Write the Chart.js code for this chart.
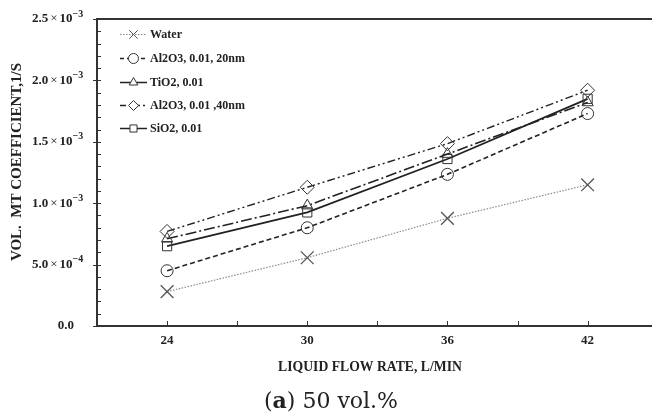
<!DOCTYPE html>
<html><head><meta charset="utf-8">
<script src="https://cdn.jsdelivr.net/npm/chart.js@4/dist/chart.umd.min.js"></script>
<style>
html,body{margin:0;padding:0;background:#fff;overflow:hidden;width:652px;height:417px;}
#wrap{position:absolute;left:0;top:0;width:668px;height:417px;}
</style></head>
<body>
<div id="wrap"><canvas id="c" width="668" height="417"></canvas></div>
<script>
const flowRates = [24, 30, 36, 42];
const seriesNames = ["Water", "Al2O3, 0.01, 20nm", "TiO2, 0.01", "Al2O3, 0.01 ,40nm", "SiO2, 0.01"];
const water      = [0.28e-3, 0.556e-3, 0.877e-3, 1.15e-3];
const al2o3_20nm = [0.45e-3, 0.80e-3, 1.235e-3, 1.73e-3];
const tio2       = [0.71e-3, 0.98e-3, 1.40e-3, 1.82e-3];
const al2o3_40nm = [0.77e-3, 1.13e-3, 1.485e-3, 1.92e-3];
const sio2       = [0.65e-3, 0.925e-3, 1.36e-3, 1.85e-3];
const xTickLabels = ["24", "30", "36", "42"];
const yTickMantissa = ["0.0", "5.0", "1.0", "1.5", "2.0", "2.5"];
const yTickExponent = ["", "−4", "−3", "−3", "−3", "−3"];
const xTitle = "LIQUID FLOW RATE, L/MIN";
const yTitle = "VOL.  MT COEFFICIENT,1/S";
const captionLetter = "a";
const caption = "50 vol.%";

const SERIF = '"Liberation Serif", "Times New Roman", serif';
const toPts = arr => arr.map((v, i) => ({x: flowRates[i], y: v}));

const styles = [
  {color:'#8a8a8a', width:1.2, dash:[1.5,1.5], point:'crossRot', r:9, bw:1.3},
  {color:'#222', width:1.6, dash:[5,3], point:'circle', r:6, bw:1},
  {color:'#222', width:1.6, dash:[11,3,2,3], point:'triangle', r:6.5, bw:1},
  {color:'#222', width:1.4, dash:[8,3,2,3,2,3], point:'rectRot', r:7, bw:1},
  {color:'#222', width:1.8, dash:[], point:'rect', r:6.5, bw:1}
];
const seriesData = [water, al2o3_20nm, tio2, al2o3_40nm, sio2];

const datasets = seriesData.map((d, i) => ({
  label: seriesNames[i],
  data: toPts(d),
  borderColor: styles[i].color,
  borderWidth: styles[i].width,
  borderDash: styles[i].dash,
  pointStyle: styles[i].point,
  pointRadius: styles[i].r,
  pointBorderWidth: styles[i].bw,
  pointBorderColor: i === 0 ? '#555' : '#333',
  pointBackgroundColor: 'rgba(255,255,255,0)',
  fill: false,
  tension: 0
}));

const decor = {
  id: 'decor',
  afterDraw(chart) {
    const ctx = chart.ctx, a = chart.chartArea;
    const xs = chart.scales.x, ys = chart.scales.y;
    ctx.save();
    // axes frame
    ctx.strokeStyle = '#333'; ctx.lineWidth = 2;
    ctx.beginPath();
    ctx.moveTo(a.left, a.top); ctx.lineTo(a.right + 20, a.top);
    ctx.moveTo(a.left, a.top - 1); ctx.lineTo(a.left, a.bottom);
    ctx.lineTo(a.right + 20, a.bottom);
    ctx.stroke();
    // y ticks
    ctx.lineWidth = 1;
    ctx.beginPath();
    for (let k = 0; k <= 25; k++) {
      const py = Math.round(ys.getPixelForValue(k * 1e-4)) + 0.5;
      const major = k % 5 === 0;
      ctx.moveTo(a.left - (major ? 4 : 0), py);
      ctx.lineTo(a.left + 4, py);
    }
    // x ticks
    for (let v = 24; v <= 45; v += 3) {
      const px = Math.round(xs.getPixelForValue(v)) + 0.5;
      ctx.moveTo(px, a.bottom);
      ctx.lineTo(px, a.bottom - 5);
    }
    ctx.stroke();
    // y labels
    ctx.fillStyle = '#222';
    ctx.textBaseline = 'middle';
    yTickMantissa.forEach((m, k) => {
      const py = ys.getPixelForValue(k * 5e-4);
      if (!yTickExponent[k]) {
        ctx.font = 'bold 13px ' + SERIF;
        ctx.textAlign = 'right';
        ctx.fillText(m, 74, py);
        return;
      }
      ctx.textAlign = 'left';
      let x = 32;
      ctx.font = 'bold 13px ' + SERIF;
      ctx.fillText(m, x, py); x += ctx.measureText(m).width + 2;
      ctx.font = '13px ' + SERIF;
      ctx.fillText('×', x, py); x += ctx.measureText('×').width + 2;
      ctx.font = 'bold 13px ' + SERIF;
      ctx.fillText('10', x, py); x += ctx.measureText('10').width;
      ctx.font = 'bold 10px ' + SERIF;
      ctx.fillText(yTickExponent[k], x, py - 5);
    });
    // x labels
    ctx.font = 'bold 13px ' + SERIF;
    ctx.textAlign = 'center'; ctx.textBaseline = 'middle';
    xTickLabels.forEach((t, k) => {
      ctx.fillText(t, xs.getPixelForValue(flowRates[k]), a.bottom + 15);
    });
    // x title
    ctx.font = 'bold 13.7px ' + SERIF;
    ctx.fillText(xTitle, 370, a.bottom + 41);
    // y title
    ctx.save();
    ctx.translate(17, 162);
    ctx.rotate(-Math.PI / 2);
    ctx.font = 'bold 15px ' + SERIF;
    ctx.fillText(yTitle, 0, 0);
    ctx.restore();
    // caption
    ctx.textAlign = 'left';
    const capFont = '22px "DejaVu Serif", serif';
    const parts = [['(', capFont], [captionLetter, 'bold 22px "DejaVu Serif", serif'], [') ' + caption, capFont]];
    let total = 0;
    parts.forEach(p => { ctx.font = p[1]; total += ctx.measureText(p[0]).width; });
    let cx = 331 - total / 2;
    parts.forEach(p => { ctx.font = p[1]; ctx.fillText(p[0], cx, 402); cx += ctx.measureText(p[0]).width; });
    // legend
    const rows = [34, 58, 82, 105, 128];
    chart.data.datasets.forEach((ds, i) => {
      const y = rows[i];
      ctx.strokeStyle = ds.borderColor; ctx.lineWidth = Math.min(ds.borderWidth, 1.5);
      ctx.setLineDash(i === 0 ? [1.5,1.5] : (i === 1 ? [4,3] : (i === 3 ? [6,3,2,3] : [])));
      ctx.beginPath(); ctx.moveTo(120, y + 0.5); ctx.lineTo(147, y + 0.5); ctx.stroke();
      ctx.setLineDash([]);
      ctx.fillStyle = '#fff';
      ctx.strokeStyle = ds.pointBorderColor; ctx.lineWidth = 1;
      Chart.helpers.drawPoint(ctx, {pointStyle: ds.pointStyle, radius: i === 0 ? 6 : 5, borderWidth: 1, rotation: 0}, 133.5, y + 0.5);
      ctx.fillStyle = '#222';
      ctx.font = 'bold 12px ' + SERIF;
      ctx.textAlign = 'left'; ctx.textBaseline = 'middle';
      ctx.fillText(ds.label, 150, y + 1);
    });
    ctx.restore();
  }
};

new Chart(document.getElementById('c'), {
  type: 'line',
  data: {datasets},
  options: {
    responsive: false,
    animation: false,
    devicePixelRatio: 1,
    layout: {padding: {top: 19, right: 0, left: 0, bottom: 0}},
    plugins: {legend: {display: false}, tooltip: {enabled: false}},
    scales: {
      x: {
        type: 'linear', min: 21, max: 45,
        grid: {display: false, drawTicks: false},
        border: {display: false},
        ticks: {display: false, stepSize: 3},
        afterFit(s) { s.height = 91; }
      },
      y: {
        type: 'linear', min: 0, max: 2.5e-3,
        grid: {display: false, drawTicks: false},
        border: {display: false},
        ticks: {display: false, stepSize: 1e-4},
        afterFit(s) { s.width = 97; }
      }
    }
  },
  plugins: [decor]
});
</script>
</body></html>
